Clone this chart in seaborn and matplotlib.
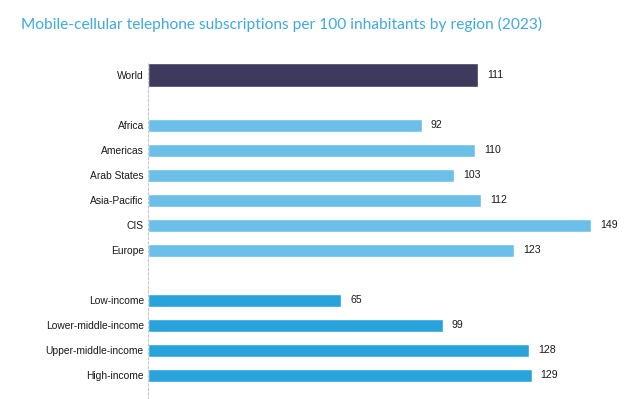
import matplotlib
matplotlib.use("Agg")
import matplotlib.pyplot as plt
import seaborn as sns
import pandas as pd

# data
world_label = ["World"]
world_value = [111]
region_labels = ["Africa", "Americas", "Arab States", "Asia-Pacific", "CIS", "Europe"]
region_values = [92, 110, 103, 112, 149, 123]
income_labels = ["Low-income", "Lower-middle-income", "Upper-middle-income", "High-income"]
income_values = [65, 99, 128, 129]

# blank slots separate the three groups
order = world_label + [""] + region_labels + [" "] + income_labels

sns.set_style("white")
plt.rcParams["font.family"] = ["Liberation Sans", "DejaVu Sans"]

fig = plt.figure(figsize=(6.43, 3.99), dpi=100)
ax = fig.add_axes([148 / 643, 0, 476 / 643, (399 - 62.5) / 399])

groups = [
    (world_label, world_value, "#3e3a5e", 0.97),
    (region_labels, region_values, "#6bbfe9", 0.52),
    (income_labels, income_values, "#29a3dc", 0.52),
]
for labels, values, col, w in groups:
    df = pd.DataFrame({"label": labels, "value": values})
    sns.barplot(data=df, x="value", y="label", order=order, color=col,
                width=w, saturation=1, ax=ax, errorbar=None)

for labels, values, _, _ in groups:
    for lab, v in zip(labels, values):
        ax.text(v + 3, order.index(lab), str(v), va="center", ha="left",
                fontsize=7.6, color="#1a1a1a")

ax.set_xlim(0, 160)
ax.set_ylim(12.96, -0.5)
ax.set_xlabel("")
ax.set_ylabel("")
ax.set_xticks([])
ax.tick_params(axis="y", length=0, pad=3, labelsize=7.4, labelcolor="#1a1a1a")
for s in ["top", "right", "bottom"]:
    ax.spines[s].set_visible(False)
ax.spines["left"].set_linestyle((0, (2, 2)))
ax.spines["left"].set_color("#c8c8c8")
ax.spines["left"].set_linewidth(0.8)
ax.set_zorder(1)

fig.text(21 / 643, 1 - 29 / 399,
         "Mobile-cellular telephone subscriptions per 100 inhabitants by region (2023)",
         fontsize=11.2, color="#3fa9e0", family=["Lato", "DejaVu Sans"],
         ha="left", va="baseline")

fig.savefig("out.png", dpi=100)
